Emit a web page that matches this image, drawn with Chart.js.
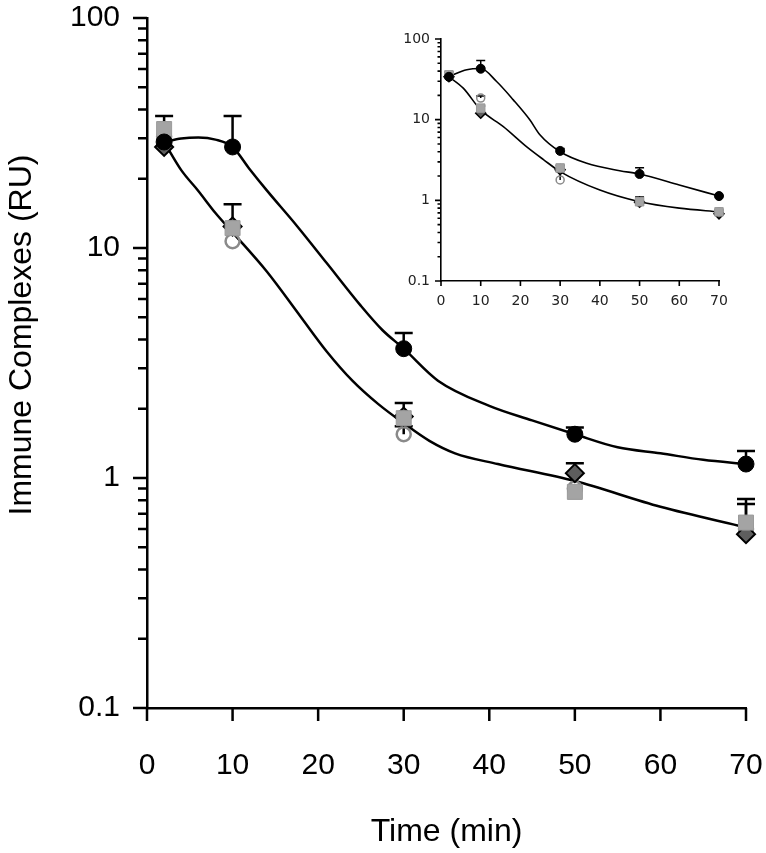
<!DOCTYPE html>
<html>
<head>
<meta charset="utf-8">
<script src="https://cdn.jsdelivr.net/npm/chart.js@4.4.1/dist/chart.umd.min.js"></script>
<style>
  html, body { margin: 0; padding: 0; background: #fff; }
  #wrap { position: relative; width: 766px; height: 853px; }
  #mainChart { position: absolute; left: 0; top: 0; }
  #insetChart { position: absolute; left: 370px; top: 20px; }
</style>
</head>
<body>
<div id="wrap">
  <canvas id="mainChart" width="766" height="853"></canvas>
  <canvas id="insetChart" width="360" height="300"></canvas>
</div>
<script>
// ---------- data ----------
const times = [2, 10, 30, 50, 70];

// main panel
const mainFilledCircle = [28.9, 27.5, 3.65, 1.55, 1.15];
const mainFilledCircleErr = [null, 37.5, 4.27, 1.66, 1.31];
const mainSquare = [32.9, 12.2, 1.82, 0.87, 0.64];
const mainSquareErr = [37.5, 15.5, 2.12, null, 0.81];
const mainDiamond = [27.5, 12.4, 1.85, 1.05, 0.57];
const mainDiamondErr = [null, null, null, 1.16, 0.77];
const mainOpenCircle = [30.5, 10.7, 1.55, 0.9, 0.6];
const mainOpenCircleErr = [null, null, 1.68, null, null];

const mainUpperFitX = [2, 4, 6, 8, 10, 12, 14, 17.5, 21, 25, 27.5, 30, 34, 40, 45, 50, 55, 60, 65, 70];
const mainUpperFitY = [28.9, 29.9, 30.2, 29.6, 27.5, 22, 17.8, 12.5, 8.6, 5.6, 4.4, 3.65, 2.65, 2.06, 1.78, 1.55, 1.36, 1.28, 1.2, 1.15];
const mainLowerFitX = [2, 4, 6, 8, 10, 14, 18, 21, 24, 27, 30, 33, 36, 41, 50, 60, 70];
const mainLowerFitY = [28.9, 21.8, 17.7, 14.2, 11.7, 7.9, 5.0, 3.55, 2.65, 2.1, 1.73, 1.45, 1.28, 1.15, 0.97, 0.75, 0.61];

// inset panel
const insetFilledCircle = [34, 42.8, 4.1, 2.12, 1.13];
const insetFilledCircleErr = [null, 54, 4.4, 2.54, null];
const insetSquare = [36, 13.9, 2.52, 0.96, 0.72];
const insetSquareErr = [39, 14.8, 2.7, 1.1, 0.76];
const insetDiamond = [34, 12, 2.4, 0.95, 0.68];
const insetOpenCircle = [35, 18.5, 1.79, 0.95, 0.72];
const insetOpenCircleErr = [null, 19.7, 2.27, null, null];

const insetUpperFitX = [2, 6.5, 10, 14, 18.2, 22.4, 24.9, 30, 36.7, 45, 50, 60, 70];
const insetUpperFitY = [34.3, 41.6, 43, 29.7, 17.6, 9.9, 6.5, 4.0, 2.88, 2.33, 2.12, 1.55, 1.13];
const insetLowerFitX = [2, 5.6, 10, 15.7, 21.6, 25.8, 30, 40, 50, 60, 70];
const insetLowerFitY = [34, 24.6, 13.2, 8.2, 4.6, 3.2, 2.27, 1.34, 0.96, 0.8, 0.72];

// axes
const yDecades = [0.1, 1, 10, 100];
const yMinorSteps = [2, 3, 4, 5, 6, 7, 8, 9];
const xMin = 0, xMax = 70, xStep = 10;

// ---------- helpers ----------
function pts(xs, ys) {
  return xs.map((x, i) => ({ x: x, y: ys[i] }));
}

function logTicks() {
  const out = [];
  yDecades.forEach((d, i) => {
    out.push({ value: d, major: true });
    if (i < yDecades.length - 1) {
      yMinorSteps.forEach((m) => out.push({ value: d * m, major: false }));
    }
  });
  return out;
}

// tick marks: long on decades, short on the rest, pointing outwards
const tickMarks = {
  id: "tickMarks",
  afterDraw(chart, args, o) {
    const ctx = chart.ctx;
    const xs = chart.scales.x;
    const ys = chart.scales.y;
    ctx.save();
    ctx.strokeStyle = o.color;
    ctx.lineWidth = o.width;
    ctx.beginPath();
    ys.ticks.forEach((t) => {
      const py = ys.getPixelForValue(t.value);
      const len = t.major ? o.majorLen : o.minorLen;
      ctx.moveTo(ys.right - len, py);
      ctx.lineTo(ys.right, py);
    });
    xs.ticks.forEach((t) => {
      const px = xs.getPixelForValue(t.value);
      ctx.moveTo(px, xs.top);
      ctx.lineTo(px, xs.top + o.xLen);
    });
    ctx.stroke();
    ctx.restore();
  },
};

// upper error bars with a cap
const errorBars = {
  id: "errorBars",
  beforeDatasetsDraw(chart, args, o) {
    const ctx = chart.ctx;
    const xs = chart.scales.x;
    const ys = chart.scales.y;
    ctx.save();
    ctx.strokeStyle = "#000";
    ctx.lineWidth = o.width;
    chart.data.datasets.forEach((ds) => {
      if (!ds.errHi) return;
      ds.data.forEach((p, j) => {
        const hi = ds.errHi[j];
        if (hi == null) return;
        const px = xs.getPixelForValue(p.x);
        const py = ys.getPixelForValue(p.y);
        const ph = ys.getPixelForValue(hi);
        ctx.beginPath();
        ctx.moveTo(px, py);
        ctx.lineTo(px, ph);
        ctx.moveTo(px - o.cap / 2, ph);
        ctx.lineTo(px + o.cap / 2, ph);
        ctx.stroke();
      });
    });
    ctx.restore();
  },
};

// rotated y title
const sideTitle = {
  id: "sideTitle",
  afterDraw(chart, args, o) {
    if (!o.text) return;
    const ctx = chart.ctx;
    ctx.save();
    ctx.translate(o.x, o.y);
    ctx.rotate(-Math.PI / 2);
    ctx.font = o.font;
    ctx.fillStyle = o.color;
    ctx.textAlign = "center";
    ctx.textBaseline = "middle";
    ctx.fillText(o.text, 0, 0);
    ctx.restore();
  },
};

function buildChart(canvas, s) {
  const datasets = [
    {
      label: "filled circle",
      data: pts(times, s.filledCircle),
      errHi: s.filledCircleErr,
      pointStyle: "circle",
      pointRadius: s.circleR,
      backgroundColor: "#000",
      borderColor: "#000",
      borderWidth: 1,
      clip: false,
    },
    {
      label: "square",
      data: pts(times, s.square),
      errHi: s.squareErr,
      pointStyle: "rect",
      pointRadius: s.squareR,
      backgroundColor: "#a4a4a4",
      borderColor: "#9a9a9a",
      borderWidth: 1,
      clip: false,
    },
    {
      label: "diamond",
      data: pts(times, s.diamond),
      errHi: s.diamondErr,
      pointStyle: "rectRot",
      pointRadius: s.diamondR,
      backgroundColor: "#5e5e5e",
      borderColor: "#000",
      borderWidth: s.diamondBorder,
      clip: false,
    },
    {
      label: "open circle",
      data: pts(times, s.openCircle),
      errHi: s.openCircleErr,
      pointStyle: "circle",
      pointRadius: s.openR,
      backgroundColor: "rgba(255,255,255,0)",
      borderColor: "#8a8a8a",
      borderWidth: s.openBorder,
      clip: false,
    },
    {
      label: "fit upper",
      data: pts(s.upperX, s.upperY),
      showLine: true,
      pointRadius: 0,
      borderColor: "#000",
      borderWidth: s.lineW,
      cubicInterpolationMode: "monotone",
      clip: false,
    },
    {
      label: "fit lower",
      data: pts(s.lowerX, s.lowerY),
      showLine: true,
      pointRadius: 0,
      borderColor: "#000",
      borderWidth: s.lineW,
      cubicInterpolationMode: "monotone",
      clip: false,
    },
  ];

  const xAxis = {
    type: "linear",
    min: xMin,
    max: xMax,
    grid: { display: false, drawTicks: false },
    border: { display: true, color: "#000", width: s.axisW },
    ticks: {
      stepSize: xStep,
      color: s.tickColor,
      font: { family: s.family, size: s.tickSize },
      padding: s.xPad,
      maxRotation: 0,
    },
    afterFit: (scale) => {
      scale.height = s.xHeight;
      scale.paddingLeft = 0;
      scale.paddingRight = 0;
    },
  };
  if (s.xTitle) {
    xAxis.title = {
      display: true,
      text: s.xTitle,
      color: "#000",
      font: { family: s.family, size: s.titleSize },
      padding: { top: 0, bottom: s.xTitlePad },
    };
  }

  return new Chart(canvas, {
    type: "scatter",
    data: { datasets: datasets },
    options: {
      responsive: false,
      animation: false,
      events: [],
      layout: { padding: { top: s.padTop, right: s.padRight, left: 0, bottom: 0 } },
      plugins: {
        legend: { display: false },
        tooltip: { enabled: false },
        tickMarks: { color: "#000", width: s.axisW, majorLen: s.majorLen, minorLen: s.minorLen, xLen: s.xLen },
        errorBars: { width: s.errW, cap: s.cap },
        sideTitle: s.yTitle
          ? { text: s.yTitle, x: s.yTitleX, y: s.yTitleY, font: s.titleSize + "px " + s.family, color: "#000" }
          : { text: "" },
      },
      scales: {
        x: xAxis,
        y: {
          type: "logarithmic",
          min: yDecades[0],
          max: yDecades[yDecades.length - 1],
          grid: { display: false, drawTicks: false },
          border: { display: true, color: "#000", width: s.axisW },
          afterBuildTicks: (scale) => {
            scale.ticks = logTicks();
          },
          ticks: {
            autoSkip: false,
            color: s.tickColor,
            font: { family: s.family, size: s.tickSize },
            padding: s.yPad,
            callback: (value) => (yDecades.includes(value) ? String(value) : ""),
          },
          afterFit: (scale) => {
            scale.width = s.yWidth;
            scale.paddingTop = 0;
            scale.paddingBottom = 0;
          },
        },
      },
    },
    plugins: [errorBars, tickMarks, sideTitle],
  });
}

buildChart(document.getElementById("mainChart"), {
  filledCircle: mainFilledCircle,
  filledCircleErr: mainFilledCircleErr,
  square: mainSquare,
  squareErr: mainSquareErr,
  diamond: mainDiamond,
  diamondErr: mainDiamondErr,
  openCircle: mainOpenCircle,
  openCircleErr: mainOpenCircleErr,
  upperX: mainUpperFitX,
  upperY: mainUpperFitY,
  lowerX: mainLowerFitX,
  lowerY: mainLowerFitY,
  circleR: 8,
  squareR: 10.6,
  diamondR: 9,
  diamondBorder: 2,
  openR: 7,
  openBorder: 2.5,
  lineW: 2.5,
  errW: 2.5,
  cap: 18,
  axisW: 2.5,
  majorLen: 14,
  minorLen: 9,
  xLen: 13,
  family: "'Liberation Sans', Arial, sans-serif",
  tickSize: 30,
  tickColor: "#000",
  titleSize: 32,
  xPad: 40,
  yPad: 27,
  xHeight: 145,
  yWidth: 147,
  padTop: 18,
  padRight: 20,
  xTitle: "Time (min)",
  xTitlePad: 2,
  yTitle: "Immune Complexes (RU)",
  yTitleX: 22,
  yTitleY: 335,
});

buildChart(document.getElementById("insetChart"), {
  filledCircle: insetFilledCircle,
  filledCircleErr: insetFilledCircleErr,
  square: insetSquare,
  squareErr: insetSquareErr,
  diamond: insetDiamond,
  diamondErr: null,
  openCircle: insetOpenCircle,
  openCircleErr: insetOpenCircleErr,
  upperX: insetUpperFitX,
  upperY: insetUpperFitY,
  lowerX: insetLowerFitX,
  lowerY: insetLowerFitY,
  circleR: 4.5,
  squareR: 6,
  diamondR: 5,
  diamondBorder: 1.5,
  openR: 4,
  openBorder: 1.5,
  lineW: 1.6,
  errW: 1.5,
  cap: 9,
  axisW: 1.6,
  majorLen: 6,
  minorLen: 3.5,
  xLen: 5,
  family: "'DejaVu Sans', Verdana, sans-serif",
  tickSize: 14,
  tickColor: "#222",
  titleSize: 14,
  xPad: 12,
  yPad: 11,
  xHeight: 39,
  yWidth: 71,
  padTop: 19,
  padRight: 11,
  xTitle: null,
  yTitle: null,
});
</script>
</body>
</html>
